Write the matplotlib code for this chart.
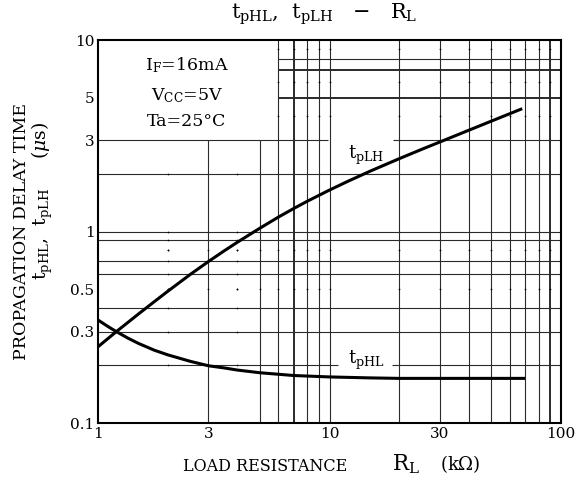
import matplotlib
matplotlib.use('Agg')
import matplotlib.pyplot as plt
from matplotlib.ticker import NullLocator

plt.rcParams['font.family'] = 'DejaVu Serif'
plt.rcParams['mathtext.fontset'] = 'dejavuserif'

# delay time (us) vs load resistance (kOhm), IF=16mA, VCC=5V, Ta=25C
rl_lh = [1, 1.1, 1.2, 1.35, 1.5, 1.75, 2, 2.5, 3, 3.5, 4, 5, 6, 7, 8,
         10, 12, 15, 20, 25, 30, 40, 50, 60, 68]
t_plh = [0.25, 0.275, 0.30, 0.336, 0.372, 0.43, 0.487, 0.596, 0.697, 0.791, 0.879, 1.04, 1.187, 1.318, 1.437,
         1.646, 1.828, 2.067, 2.40, 2.685, 2.935, 3.38, 3.77, 4.12, 4.38]
rl_hl = [1, 1.1, 1.2, 1.35, 1.5, 1.75, 2, 2.5, 3, 3.5, 4, 5, 7, 10, 15, 20, 40, 70]
t_phl = [0.345, 0.32, 0.30, 0.277, 0.260, 0.240, 0.227, 0.210, 0.199, 0.194, 0.189, 0.183, 0.177,
         0.174, 0.172, 0.171, 0.171, 0.171]

x_ticks = [1, 3, 10, 30, 100]
x_ticklabels = ['1', '3', '10', '30', '100']
y_ticks = [0.1, 0.3, 0.5, 1, 3, 5, 10]
y_ticklabels = ['0.1', '0.3', '0.5', '1', '3', '5', '10']

# chart paper grid
v_full = [6, 7, 8, 9, 10, 20, 30, 40, 50, 60, 70, 80, 90]
v_low = [3, 5]           # these stop under the conditions box
v_dots = [2, 4]          # only dotted at the crossings
h_full = [0.2, 0.3, 0.4, 0.6, 0.7, 0.9, 1, 2, 3]
h_high = [5, 7, 8]       # these start right of the conditions box
h_dots = [0.5, 0.8, 4, 6, 9]
thick = [7, 90, 5]
# breaks left in a grid line for a curve label
gaps = {3: (9.85, 18.8), 0.2: (10.9, 18.7)}

BOX_X, BOX_Y = 6, 3
GRID = '#2a2a2a'

fig = plt.figure(figsize=(5.77, 4.90), dpi=100)
ax = fig.add_axes([98 / 577, 1 - 423 / 490, 463 / 577, 383 / 490])
ax.set_xscale('log')
ax.set_yscale('log')
ax.set_xlim(1, 100)
ax.set_ylim(0.1, 10)

for x in v_full:
    ax.vlines(x, 0.1, 10, color=GRID, lw=1.4 if x in thick else 0.8, zorder=1)
for x in v_low:
    ax.vlines(x, 0.1, BOX_Y, color=GRID, lw=0.8, zorder=1)

for y in h_full:
    lw = 1.4 if y in thick else 0.8
    if y in gaps:
        g0, g1 = gaps[y]
        ax.hlines([y, y], [1, g1], [g0, 100], color=GRID, lw=lw, zorder=1)
    else:
        ax.hlines(y, 1, 100, color=GRID, lw=lw, zorder=1)
for y in h_high:
    ax.hlines(y, BOX_X, 100, color=GRID, lw=1.4 if y in thick else 0.8, zorder=1)

dot_x, dot_y = [], []
for x in v_dots:
    for y in h_full + h_dots:
        if y < BOX_Y:
            dot_x.append(x)
            dot_y.append(y)
for y in h_dots:
    for x in v_full + v_low + v_dots:
        if x >= BOX_X or y < BOX_Y:
            dot_x.append(x)
            dot_y.append(y)
ax.scatter(dot_x, dot_y, s=1.5, color='black', lw=0, zorder=1)

ax.plot(rl_lh, t_plh, color='black', lw=2.2, solid_capstyle='butt', zorder=3)
ax.plot(rl_hl, t_phl, color='black', lw=2.2, solid_capstyle='butt', zorder=3)

ax.text(0.579, 0.70, r't$_{\mathrm{pLH}}$', transform=ax.transAxes,
        ha='center', va='center', fontsize=13)
ax.text(0.579, 0.164, r't$_{\mathrm{pHL}}$', transform=ax.transAxes,
        ha='center', va='center', fontsize=13)

cond = [r'I$_{\mathrm{F}}$=16mA', r'V$_{\mathrm{CC}}$=5V', 'Ta=25°C']
for txt, yy in zip(cond, [0.935, 0.856, 0.786]):
    ax.text(0.192, yy, txt, transform=ax.transAxes, ha='center', va='center', fontsize=12.5)

ax.xaxis.set_minor_locator(NullLocator())
ax.yaxis.set_minor_locator(NullLocator())
ax.set_xticks(x_ticks, x_ticklabels)
ax.set_yticks(y_ticks, y_ticklabels)
ax.tick_params(length=0, labelsize=11)
ax.tick_params(axis='x', pad=3)
ax.tick_params(axis='y', pad=2.5)
for sp in ax.spines.values():
    sp.set_linewidth(1.5)
    sp.set_zorder(4)

fig.text(0.562, 0.971, r't$_{\mathrm{pHL}}$,  t$_{\mathrm{pLH}}$   $-$   R$_{\mathrm{L}}$',
         ha='center', va='center', fontsize=15)
fig.text(22 / 577, 1 - 231 / 490, 'PROPAGATION DELAY TIME', rotation=90,
         ha='center', va='center', fontsize=12.5)
fig.text(42 / 577, 1 - 201 / 490, r't$_{\mathrm{pHL}}$,  t$_{\mathrm{pLH}}$     ($\mu$s)', rotation=90,
         ha='center', va='center', fontsize=13.5)
fig.text(265 / 577, 1 - 466 / 490, 'LOAD RESISTANCE', ha='center', va='center', fontsize=11.5)
fig.text(406 / 577, 1 - 464 / 490, r'R$_{\mathrm{L}}$', ha='center', va='center', fontsize=15.5)
fig.text(460 / 577, 1 - 464 / 490, r'(k$\Omega$)', ha='center', va='center', fontsize=13)

fig.savefig('out.png', dpi=100)
